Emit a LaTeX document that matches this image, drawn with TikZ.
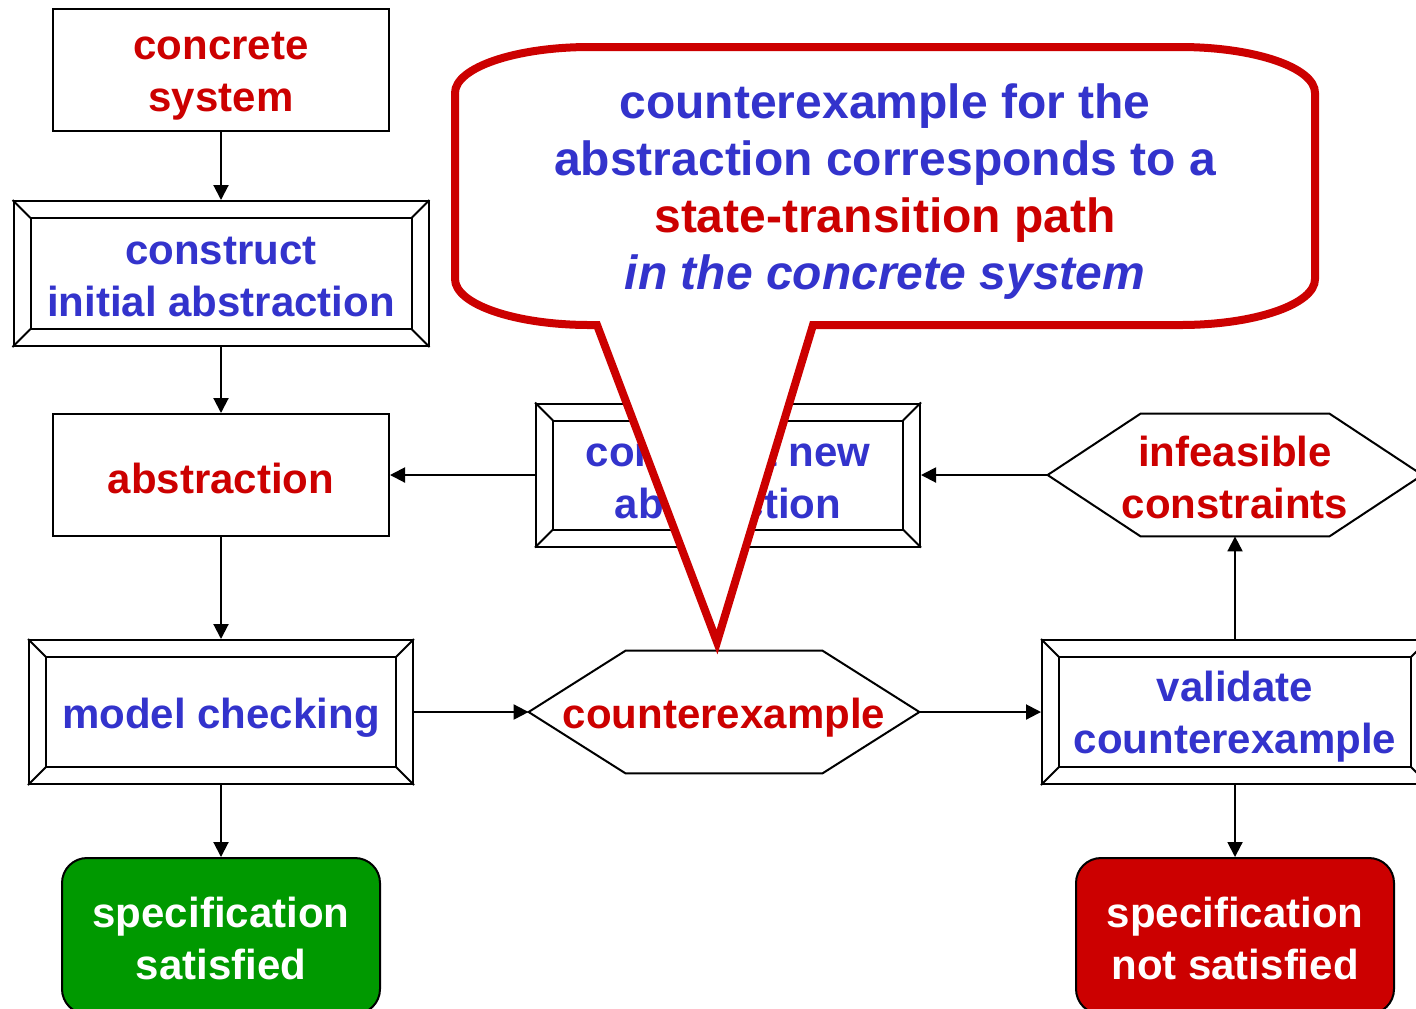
\documentclass[tikz,border=0pt]{standalone}
\usepackage{fontspec}
\setmainfont{Liberation Sans}
\usetikzlibrary{calc,arrows.meta}

\definecolor{cblue}{HTML}{3333CC}
\definecolor{cred}{HTML}{CC0000}
\definecolor{cgreen}{HTML}{009900}

% fixed depth of the last line and height of the first line of a label
\newcommand\lnstrut{\rule[-0.12em]{0pt}{1.12em}}
\newcommand\tallstrut{\rule{0pt}{20pt}}

% inner frame and corner bevels of a framed box (#1 = node, #2 = inset)
\newcommand\bevelframe[2]{%
  \draw[boxline] ($(#1.north west)+(#2,#2)$) rectangle ($(#1.south east)+(-#2,-#2)$);
  \draw[boxline] (#1.north west) -- ($(#1.north west)+(#2,#2)$);
  \draw[boxline] (#1.north east) -- ($(#1.north east)+(-#2,#2)$);
  \draw[boxline] (#1.south east) -- ($(#1.south east)+(-#2,-#2)$);
  \draw[boxline] (#1.south west) -- ($(#1.south west)+(#2,-#2)$);
}
% hexagon outline around a node (#1 = node, #2 = horizontal inset of the top edge)
\newcommand\hexframe[2]{%
  \draw[boxline] (#1.west) -- ($(#1.north west)+(#2,0)$) -- ($(#1.north east)+(-#2,0)$)
    -- (#1.east) -- ($(#1.south east)+(-#2,0)$) -- ($(#1.south west)+(#2,0)$) -- cycle;
}

\tikzset{
  boxline/.style={draw=black, line width=1pt},
  lbl/.style={font=\fontsize{21}{26}\selectfont\bfseries, align=center, inner sep=0pt,
              execute at end node=\lnstrut},
  plainbox/.style={lbl, boxline, rectangle, minimum width=168pt, minimum height=61pt},
  framedbox/.style={lbl, boxline, rectangle, minimum width=192pt, minimum height=72pt, text=cblue},
  hexnode/.style={lbl, rectangle, minimum height=61pt, text=cred},
  endbox/.style={lbl, boxline, rectangle, rounded corners=12.5pt, minimum width=159pt,
                 minimum height=78pt, text=white},
  arr/.style={boxline, -{Triangle[length=7.5pt,width=7.5pt]}},
  callout/.style={draw=cred, line width=4pt, fill=white, line join=miter},
}

\begin{document}
\begin{tikzpicture}[x=0.5pt,y=-0.5pt]
\clip (0,0) rectangle (1416,1008);
\fill[white] (0,0) rectangle (1416,1008);

% left column
\node[plainbox, text=cred] (concrete) at (221,70) {\tallstrut concrete\\system};
\node[framedbox, minimum width=207.5pt, minimum height=72.5pt] (initial) at (221,273.5)
  {\tallstrut construct\\initial abstraction};
\bevelframe{initial}{18}
\node[plainbox, text=cred] (abstr) at (221,475) {abstraction};
\node[framedbox] (mc) at (221,712) {model checking};
\bevelframe{mc}{18}
\node[endbox, fill=cgreen] (sat) at (221,936) {\tallstrut specification\\satisfied};

% middle column
\node[framedbox, minimum height=71.5pt] (newabs) at (728,475)
  {\tallstrut construct new\\abstraction};
\bevelframe{newabs}{18}
\node[hexnode, minimum width=195pt] (cex) at (724,712) {counterexample};
\hexframe{cex}{97}

% right column
\node[hexnode, minimum width=187pt] (infeas) at (1235,475) {\tallstrut infeasible\\constraints};
\hexframe{infeas}{93}
\node[framedbox, minimum width=193pt] (valid) at (1235,712) {\tallstrut validate\\counterexample};
\bevelframe{valid}{18}
\node[endbox, fill=cred] (unsat) at (1235,936) {\tallstrut specification\\not satisfied};

% connectors
\draw[arr] (concrete.south) -- (initial.north);
\draw[arr] (initial.south) -- (abstr.north);
\draw[arr] (abstr.south) -- (mc.north);
\draw[arr] (mc.south) -- (sat.north);
\draw[arr] (mc.east) -- (cex.west);
\draw[arr] (cex.east) -- (valid.west);
\draw[arr] (valid.north) -- (infeas.south);
\draw[arr] (valid.south) -- (unsat.north);
\draw[arr] (infeas.west) -- (newabs.east);
\draw[arr] (newabs.west) -- (abstr.east);

% speech bubble with its tail pointing at the counterexample
\draw[callout] (597,325) -- (717,642) -- (813,325) -- (1180,325)
  .. controls (1254.6,325) and (1315,304.4) .. (1315,279) -- (1315,93)
  .. controls (1315,67.6) and (1254.6,47) .. (1180,47) -- (590,47)
  .. controls (515.4,47) and (455,67.6) .. (455,93) -- (455,279)
  .. controls (455,304.4) and (515.4,325) .. (590,325) -- cycle;
\node[font=\fontsize{24}{28.5}\selectfont\bfseries, align=center, inner sep=0pt, text=cblue]
  (calltext) at (885,191.5)
  {counterexample for the\\abstraction corresponds to a\\
   \textcolor{cred}{state-transition path}\\\textit{in the concrete system}};
\end{tikzpicture}
\end{document}
